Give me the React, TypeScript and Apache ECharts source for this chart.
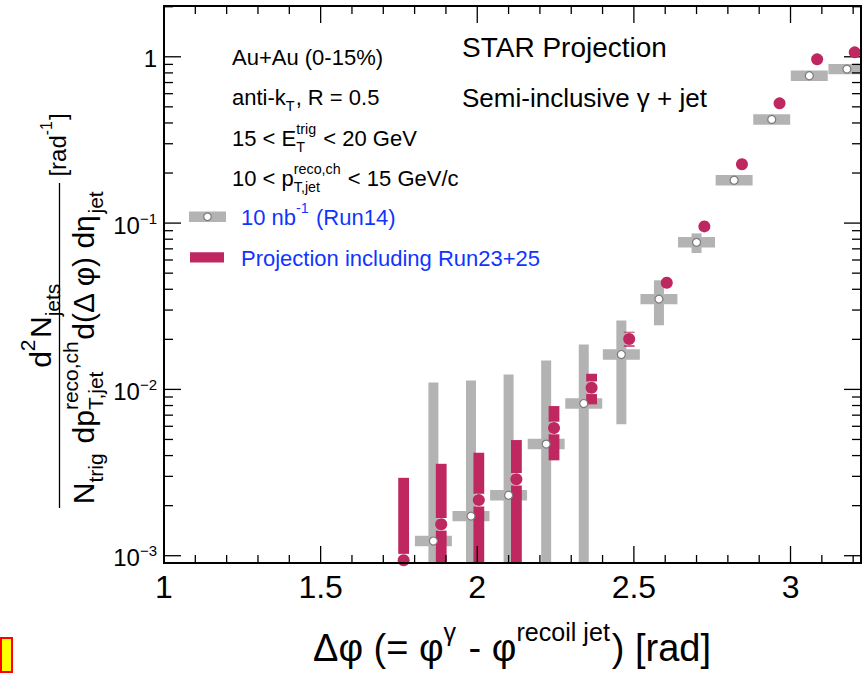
import React, { useEffect, useRef } from 'react';
import * as echarts from 'echarts';

// ---------- axis ticks ----------
const xTickMajor = [1, 1.5, 2, 2.5, 3];
const xTickLabels = ['1', '1.5', '2', '2.5', '3'];
const xTickMinor = [1.1, 1.2, 1.3, 1.4, 1.6, 1.7, 1.8, 1.9, 2.1, 2.2, 2.3, 2.4, 2.6, 2.7, 2.8, 2.9, 3.1, 3.2];
const yTickMajor = [0.001, 0.01, 0.1, 1];
const yTickLabels = ['10^−3', '10^−2', '10^−1', '1'];
const yTickMinor = [
  0.002, 0.003, 0.004, 0.005, 0.006, 0.007, 0.008, 0.009,
  0.02, 0.03, 0.04, 0.05, 0.06, 0.07, 0.08, 0.09,
  0.2, 0.3, 0.4, 0.5, 0.6, 0.7, 0.8, 0.9,
  2,
];

// ---------- data: 10 nb^-1 (Run14) ----------
const run14X = [1.86, 1.98, 2.1, 2.22, 2.34, 2.46, 2.58, 2.7, 2.82, 2.94, 3.06, 3.18];
const run14Y = [0.001225, 0.00173, 0.00231, 0.00469, 0.00822, 0.0162, 0.0349, 0.0766, 0.181, 0.42, 0.769, 0.843];
const run14StatLow = [0.0005, 0.0005, 0.0005, 0.0005, 0.0005, 0.00617, 0.0243, 0.0661, 0.181, 0.42, 0.769, 0.843];
const run14StatHigh = [0.011, 0.0113, 0.0123, 0.0149, 0.0186, 0.026, 0.0453, 0.0867, 0.181, 0.42, 0.769, 0.843];
const run14SysRel = [0.075, 0.075, 0.075, 0.075, 0.075, 0.075, 0.075, 0.075, 0.075, 0.075, 0.075, 0.075];
const run14BinWidth = 0.118;

// ---------- data: Projection including Run23+25 ----------
const projX = [1.765, 1.885, 2.005, 2.125, 2.245, 2.365, 2.485, 2.605, 2.725, 2.845, 2.965, 3.085, 3.205];
const projY = [0.00094, 0.001545, 0.00216, 0.00288, 0.00586, 0.01023, 0.0201, 0.0438, 0.0955, 0.226, 0.525, 0.965, 1.063];
const projStatLow = [0.0005, 0.0005, 0.0005, 0.0005, 0.003745, 0.00813, 0.01805, 0.0438, 0.0955, 0.226, 0.525, 0.965, 1.063];
const projStatHigh = [0.00294, 0.00357, 0.00416, 0.00496, 0.00794, 0.01242, 0.02222, 0.0438, 0.0955, 0.226, 0.525, 0.965, 1.063];

const X_MIN = 1;
const X_MAX = 3.225;
const Y_MIN = 9.04e-4;
const Y_MAX = 2.02;

const GRAY = '#b3b3b3';
const CIRCLE_EDGE = '#7a7a7a';
const RED = '#bf2761';
const BLUE = '#1035ff';
const FONT = "'Liberation Sans', Arial, Helvetica, sans-serif";
const DOT_SIZE = 12;

let measureCtx: CanvasRenderingContext2D | null = null;
function measure(t: string, size: number): number {
  if (!measureCtx) measureCtx = document.createElement('canvas').getContext('2d');
  if (!measureCtx) return t.length * size * 0.55;
  measureCtx.font = `${size}px ${FONT}`;
  return measureCtx.measureText(t).width;
}

function txt(text: string, x: number, y: number, size: number, color: string, align = 'left') {
  return {
    type: 'text',
    x,
    y,
    silent: true,
    style: {
      text,
      fontSize: size,
      fontFamily: FONT,
      fill: color,
      textAlign: align,
      textVerticalAlign: 'middle',
      align,
      verticalAlign: 'middle',
    },
  };
}

type Seg = string | { sup?: string; sub?: string };

function latex(segs: Seg[], size: number, color: string, ratio = 0.65) {
  const ss = size * ratio;
  const items: any[] = [];
  let x = 0;
  for (const s of segs) {
    if (typeof s === 'string') {
      items.push(txt(s, x, 0, size, color));
      x += measure(s, size);
    } else {
      let w = 0;
      if (s.sup) {
        items.push(txt(s.sup, x, -0.43 * size, ss, color));
        w = Math.max(w, measure(s.sup, ss));
      }
      if (s.sub) {
        items.push(txt(s.sub, x, 0.42 * size, ss, color));
        w = Math.max(w, measure(s.sub, ss));
      }
      x += w + size * 0.05;
    }
  }
  return { items, width: x };
}

function lineAt(segs: Seg[], size: number, color: string, x: number, y: number, ratio?: number) {
  const l = latex(segs, size, color, ratio);
  return { type: 'group', x, y, children: l.items };
}

function centeredAt(segs: Seg[], size: number, color: string, cx: number, cy: number, rotation = 0, ratio?: number) {
  const l = latex(segs, size, color, ratio);
  const shifted = l.items.map((it) => ({ ...it, x: it.x - l.width / 2 }));
  return { type: 'group', x: cx, y: cy, rotation, children: shifted };
}

function buildOption() {
  const run14Data = run14X.map((x, i) => [x, run14Y[i], run14StatLow[i], run14StatHigh[i], run14SysRel[i]]);
  const projData = projX.map((x, i) => [x, projY[i], projStatLow[i], projStatHigh[i]]);

  const graphics: any[] = [
    // frame
    {
      type: 'rect',
      z: 100,
      silent: true,
      shape: { x: 164, y: 6, width: 697, height: 557 },
      style: { fill: 'none', stroke: '#000', lineWidth: 2 },
    },
    // annotations
    lineAt(['Au+Au (0-15%)'], 22, '#000', 232, 57),
    lineAt(['anti-k', { sub: 'T' }, ', R = 0.5'], 22, '#000', 232, 97),
    lineAt(['15 < E', { sup: 'trig', sub: 'T' }, ' < 20 GeV'], 22, '#000', 232, 138),
    lineAt(['10 < p', { sup: 'reco,ch', sub: 'T,jet' }, ' < 15 GeV/c'], 22, '#000', 232, 178),
    lineAt(['STAR Projection'], 28, '#000', 462, 47),
    lineAt(['Semi-inclusive γ + jet'], 26, '#000', 462, 98),
    // legend
    { type: 'rect', silent: true, shape: { x: 189, y: 211.5, width: 37, height: 10.6 }, style: { fill: GRAY } },
    { type: 'circle', silent: true, shape: { cx: 207.5, cy: 216.8, r: 3.8 }, style: { fill: '#fff', stroke: CIRCLE_EDGE, lineWidth: 1.2 } },
    { type: 'rect', silent: true, shape: { x: 190, y: 252.3, width: 34, height: 10.2 }, style: { fill: RED } },
    lineAt(['10 nb', { sup: '-1' }, ' (Run14)'], 22, BLUE, 241, 217),
    lineAt(['Projection including Run23+25'], 22, BLUE, 241, 258),
    // y axis title
    centeredAt(['d', { sup: '2' }, 'N', { sub: 'jets' }], 30, '#000', 40, 325, Math.PI / 2, 0.7),
    centeredAt(['N', { sub: 'trig' }, ' dp', { sup: 'reco,ch', sub: 'T,jet' }, 'd(Δ φ) dη', { sub: 'jet' }], 30, '#000', 83, 347, Math.PI / 2, 0.7),
    centeredAt(['[rad', { sup: '-1' }, ']'], 24, '#000', 57, 145, Math.PI / 2),
    {
      type: 'line',
      silent: true,
      shape: { x1: 59.5, y1: 183, x2: 59.5, y2: 508 },
      style: { stroke: '#000', lineWidth: 1.3 },
    },
    // x axis title
    centeredAt(['Δφ (= φ', { sup: 'γ' }, ' - φ', { sup: 'recoil jet' }, ') [rad]'], 38, '#000', 512, 648, 0, 0.66),
    // yellow marker box
    {
      type: 'rect',
      silent: true,
      shape: { x: 1, y: 638, width: 11, height: 34 },
      style: { fill: '#ffff00', stroke: '#ff0000', lineWidth: 2 },
    },
  ];

  return {
    animation: false,
    backgroundColor: '#ffffff',
    grid: { left: 164, right: 3, top: 6, bottom: 111, containLabel: false },
    xAxis: {
      type: 'value',
      min: X_MIN,
      max: X_MAX,
      show: false,
      splitLine: { show: false },
    },
    yAxis: {
      type: 'log',
      logBase: 10,
      min: Y_MIN,
      max: Y_MAX,
      show: false,
      splitLine: { show: false },
    },
    series: [
      // Run14 systematic boxes
      {
        type: 'custom',
        clip: true,
        silent: true,
        encode: { x: 0, y: 1 },
        data: run14Data,
        renderItem: (params: any, api: any) => {
          const x = api.value(0);
          const y = api.value(1);
          const r = api.value(4);
          const p1 = api.coord([x - run14BinWidth / 2, y * (1 + r)]);
          const p2 = api.coord([x + run14BinWidth / 2, y / (1 + r)]);
          return {
            type: 'rect',
            shape: { x: p1[0], y: p1[1], width: p2[0] - p1[0], height: p2[1] - p1[1] },
            style: { fill: GRAY },
          };
        },
      },
      // Run14 statistical bars
      {
        type: 'custom',
        clip: true,
        silent: true,
        encode: { x: 0, y: 1 },
        data: run14Data,
        renderItem: (params: any, api: any) => {
          const x = api.value(0);
          const lo = api.value(2);
          const hi = api.value(3);
          if (!(hi > lo)) return { type: 'group', children: [] };
          const p1 = api.coord([x, hi]);
          const p2 = api.coord([x, lo]);
          return {
            type: 'rect',
            shape: { x: p1[0] - 5, y: p1[1], width: 10, height: p2[1] - p1[1] },
            style: { fill: GRAY },
          };
        },
      },
      // Projection statistical bars (interrupted around the marker)
      {
        type: 'custom',
        clip: true,
        silent: true,
        encode: { x: 0, y: 1 },
        data: projData,
        renderItem: (params: any, api: any) => {
          const x = api.value(0);
          const y = api.value(1);
          const lo = api.value(2);
          const hi = api.value(3);
          if (!(hi > lo)) return { type: 'group', children: [] };
          const p1 = api.coord([x, hi]);
          const p2 = api.coord([x, lo]);
          const pc = api.coord([x, y]);
          const gap = DOT_SIZE / 2 + 0.3;
          const children: any[] = [];
          const topEnd = Math.min(p2[1], pc[1] - gap);
          if (topEnd > p1[1]) {
            children.push({
              type: 'rect',
              shape: { x: p1[0] - 5.4, y: p1[1], width: 10.8, height: topEnd - p1[1] },
              style: { fill: RED },
            });
          }
          const botStart = Math.max(p1[1], pc[1] + gap);
          if (p2[1] > botStart) {
            children.push({
              type: 'rect',
              shape: { x: p1[0] - 5.4, y: botStart, width: 10.8, height: p2[1] - botStart },
              style: { fill: RED },
            });
          }
          return { type: 'group', children };
        },
      },
      // Run14 open circles
      {
        type: 'scatter',
        silent: true,
        data: run14X.map((x, i) => [x, run14Y[i]]),
        symbol: 'circle',
        symbolSize: 8,
        itemStyle: { color: '#ffffff', borderColor: CIRCLE_EDGE, borderWidth: 1.2, opacity: 1 },
      },
      // Projection dots
      {
        type: 'scatter',
        silent: true,
        data: projX.map((x, i) => [x, projY[i]]),
        symbol: 'circle',
        symbolSize: DOT_SIZE,
        itemStyle: { color: RED, borderWidth: 0, opacity: 1 },
      },
      // x ticks (bottom and top)
      {
        type: 'custom',
        clip: false,
        silent: true,
        encode: { x: 0, y: 1 },
        data: [...xTickMajor.map((v) => [v, Y_MIN, 17]), ...xTickMinor.map((v) => [v, Y_MIN, 8])],
        renderItem: (params: any, api: any) => {
          const v = api.value(0);
          const len = api.value(2);
          const b = api.coord([v, Y_MIN]);
          const t = api.coord([v, Y_MAX]);
          const st = { stroke: '#000', lineWidth: 1.3 };
          return {
            type: 'group',
            children: [
              { type: 'line', shape: { x1: b[0], y1: b[1], x2: b[0], y2: b[1] - len }, style: st },
              { type: 'line', shape: { x1: t[0], y1: t[1], x2: t[0], y2: t[1] + len }, style: st },
            ],
          };
        },
      },
      // y ticks (left and right)
      {
        type: 'custom',
        clip: false,
        silent: true,
        encode: { x: 0, y: 1 },
        data: [...yTickMajor.map((v) => [X_MIN, v, 17]), ...yTickMinor.map((v) => [X_MIN, v, 9])],
        renderItem: (params: any, api: any) => {
          const v = api.value(1);
          const len = api.value(2);
          const l = api.coord([X_MIN, v]);
          const r = api.coord([X_MAX, v]);
          const st = { stroke: '#000', lineWidth: 1.3 };
          return {
            type: 'group',
            children: [
              { type: 'line', shape: { x1: l[0], y1: l[1], x2: l[0] + len, y2: l[1] }, style: st },
              { type: 'line', shape: { x1: r[0], y1: r[1], x2: r[0] - len, y2: r[1] }, style: st },
            ],
          };
        },
      },
      // x tick labels
      {
        type: 'custom',
        clip: false,
        silent: true,
        encode: { x: 0, y: 1 },
        data: xTickMajor.map((v) => [v, Y_MIN]),
        renderItem: (params: any, api: any) => {
          const p = api.coord([api.value(0), Y_MIN]);
          return {
            type: 'text',
            x: p[0],
            y: p[1] + 24,
            style: {
              text: xTickLabels[params.dataIndex],
              fontSize: 32,
              fontFamily: FONT,
              fill: '#000',
              align: 'center',
              verticalAlign: 'middle',
            },
          };
        },
      },
      // y tick labels
      {
        type: 'custom',
        clip: false,
        silent: true,
        encode: { x: 0, y: 1 },
        data: yTickMajor.map((v) => [X_MIN, v]),
        renderItem: (params: any, api: any) => {
          const p = api.coord([X_MIN, api.value(1)]);
          const label = yTickLabels[params.dataIndex];
          const parts = label.split('^');
          const right = p[0] - 7;
          const children: any[] = [];
          let baseRight = right;
          if (parts[1]) {
            const ew = measure(parts[1], 15);
            children.push({
              type: 'text',
              x: right - ew,
              y: p[1] - 5,
              style: { text: parts[1], fontSize: 15, fontFamily: FONT, fill: '#000', align: 'left', verticalAlign: 'middle' },
            });
            baseRight = right - ew;
          }
          children.push({
            type: 'text',
            x: baseRight,
            y: p[1] + 2,
            style: { text: parts[0], fontSize: 24, fontFamily: FONT, fill: '#000', align: 'right', verticalAlign: 'middle' },
          });
          return { type: 'group', children };
        },
      },
    ],
    graphic: { elements: graphics },
  };
}

export default function App() {
  const ref = useRef<HTMLDivElement>(null);
  useEffect(() => {
    if (!ref.current) return;
    const chart = echarts.init(ref.current, undefined, { renderer: 'svg' });
    chart.setOption(buildOption() as any);
    return () => chart.dispose();
  }, []);
  return (
    <div
      ref={ref}
      style={{ position: 'absolute', left: 0, top: 0, width: 864, height: 674, background: '#fff' }}
    />
  );
}
